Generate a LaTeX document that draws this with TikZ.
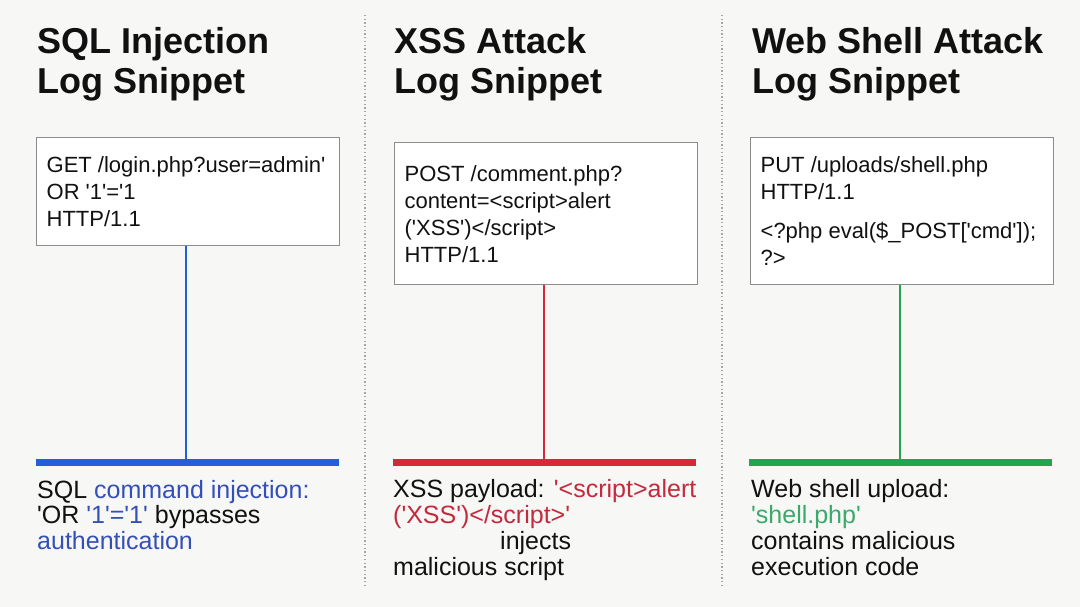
\documentclass[tikz,border=0pt]{standalone}
\usepackage{fontspec}
\newfontfamily\logfont{Liberation Sans}
\usetikzlibrary{positioning,calc}
\definecolor{bgc}{HTML}{F7F7F5}
\definecolor{boxline}{HTML}{8C8C8C}
\definecolor{ink}{HTML}{111111}
\definecolor{sqlblue}{HTML}{2360D8}
\definecolor{sqltext}{HTML}{3450B8}
\definecolor{xssred}{HTML}{D62839}
\definecolor{xsstext}{HTML}{C42A3E}
\definecolor{shellgreen}{HTML}{22A550}
\definecolor{shelltext}{HTML}{3AAA6A}

\begin{document}
\begin{tikzpicture}[x=1pt,y=-1pt,
  ttl/.style={anchor=base west,align=left,inner sep=0pt,text=ink,
    font={\logfont\bfseries\fontsize{36}{40}\selectfont}},
  logbox/.style={anchor=north west,draw=boxline,line width=1.3pt,fill=white,
    align=flush left,text width=283pt,inner xsep=10pt,inner ysep=0pt,text=ink,
    font={\logfont\fontsize{22}{27}\selectfont}},
  bar/.style={fill=#1,draw=none,anchor=west,minimum width=303pt,
    minimum height=6.5pt,inner sep=0pt},
  link/.style={draw=#1,line width=1.8pt},
  note/.style={anchor=base west,align=left,inner sep=0pt,text=ink,
    font={\logfont\fontsize{25}{25.7}\selectfont}},
  sep/.style={draw=gray!70,line width=1.3pt,dash pattern=on 1.3pt off 2.4pt}]
\fill[bgc] (0,0) rectangle (1080,607);
\useasboundingbox (0,0) rectangle (1080,607);
% column separators
\draw[sep] (365,15) -- (365,585);
\draw[sep] (722,15) -- (722,585);
% titles (anchored on the last line)
\node[ttl] (ttlsql) at (37,94) {SQL Injection\\Log Snippet};
\node[ttl] (ttlxss) at (394,94) {XSS Attack\\Log Snippet};
\node[ttl] (ttlshell) at (752,94) {Web Shell Attack\\Log Snippet};
% log snippets
\node[logbox,minimum height=108pt] (logsql) at (36,137)
  {GET /login.php?user=admin'\\OR '1'='1\\HTTP/1.1};
\node[logbox,minimum height=142pt] (logxss) at (394,142)
  {POST /comment.php?\\content=<script>alert\\('XSS')</script>\\HTTP/1.1};
\node[logbox,minimum height=147pt] (logshell) at (750,137)
  {PUT /uploads/shell.php\\HTTP/1.1\\[12pt]<?php eval(\$\_POST['cmd']);\\?>};
% bars
\node[bar=sqlblue] (barsql) at (36,462.5) {};
\node[bar=xssred] (barxss) at (393,462.5) {};
\node[bar=shellgreen] (barshell) at (749,462.5) {};
\draw[link=sqlblue] ([xshift=-2.5pt]logsql.south) -- ([xshift=-2.5pt]logsql.south |- barsql.north);
\draw[link=xssred] ([xshift=-2.5pt]logxss.south) -- ([xshift=-2.5pt]logxss.south |- barxss.north);
\draw[link=shellgreen] ([xshift=-2.5pt]logshell.south) -- ([xshift=-2.5pt]logshell.south |- barshell.north);
% findings (anchored on the last line)
\node[note] (notesql) at (37,549.5)
  {SQL {\color{sqltext}command injection:}\\
   'OR {\color{sqltext}'1'='1'} bypasses\\
   {\color{sqltext}authentication}};
\node[note] (notexss) at (393,575)
  {XSS payload: {\color{xsstext}'<script>alert}\\
   {\color{xsstext}('XSS')</script>'}\\
   \hspace*{107pt}injects\\
   malicious script};
\node[note] (noteshell) at (751,575)
  {Web shell upload:\\
   {\color{shelltext}'shell.php'}\\
   contains malicious\\
   execution code};
\end{tikzpicture}
\end{document}
